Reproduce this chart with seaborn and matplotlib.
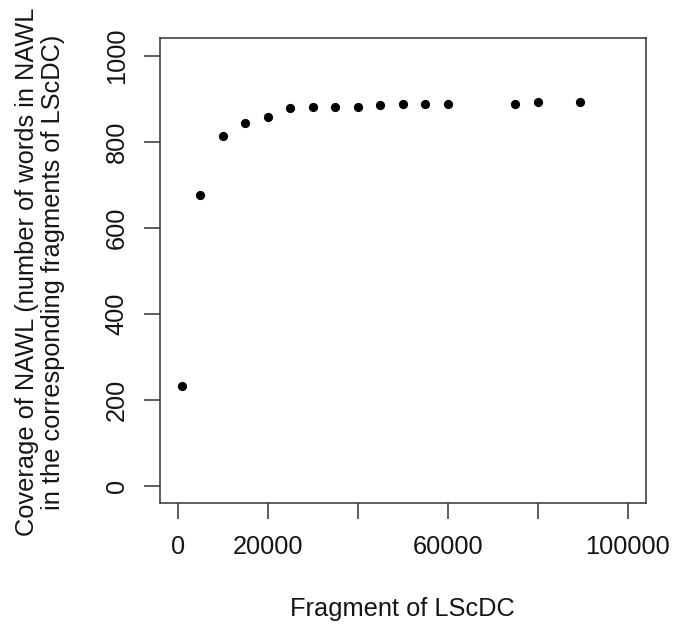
import matplotlib
matplotlib.use("Agg")
import matplotlib.pyplot as plt
import seaborn as sns
import pandas as pd

# Fragment sizes of LScDC (number of tokens) and NAWL words covered by each
fragment_size = [1000, 5000, 10000, 15000, 20000, 25000, 30000, 35000,
                 40000, 45000, 50000, 55000, 60000, 75000, 80000, 89300]
nawl_coverage = [232, 677, 814, 844, 858, 877, 881, 881,
                 881, 884, 888, 888, 888, 888, 892, 892]

x_ticks = [0, 20000, 40000, 60000, 80000, 100000]
x_tick_labels = ["0", "20000", "", "60000", "", "100000"]
y_ticks = [0, 200, 400, 600, 800, 1000]
y_tick_labels = ["0", "200", "400", "600", "800", "1000"]

df = pd.DataFrame({"fragment": fragment_size, "coverage": nawl_coverage})

sns.set_style("white")
plt.rcParams["font.family"] = ["Liberation Sans", "DejaVu Sans"]

fig = plt.figure(figsize=(6.73, 6.24), dpi=100)
ax = fig.add_axes([160 / 673, 1 - 503.3 / 624, 485.7 / 673, 465 / 624])

sns.scatterplot(data=df, x="fragment", y="coverage", ax=ax,
                color="black", s=44, linewidth=0, marker="o")

ax.set_xlim(-4000, 104000)
ax.set_ylim(-40, 1040)

ax.set_xticks(x_ticks)
ax.set_xticklabels(x_tick_labels)
ax.set_yticks(y_ticks)
ax.set_yticklabels(y_tick_labels, rotation=90, va="center")

for side in ["left", "right", "top", "bottom"]:
    ax.spines[side].set_visible(True)
    ax.spines[side].set_color("#333333")
    ax.spines[side].set_linewidth(1.1)

ax.tick_params(axis="both", direction="out", length=11.5, width=1.1,
               color="#333333", labelsize=18.3, labelcolor="#151515", pad=11)
ax.tick_params(axis="x", bottom=True)
ax.tick_params(axis="y", left=True)

ax.set_xlabel("Fragment of LScDC", fontsize=18.3, color="#151515")
ax.xaxis.set_label_coords(0.5, -0.2015)
ax.xaxis.label.set_va("top")

ax.set_ylabel("Coverage of NAWL (number of words in NAWL\n"
              "in the corresponding fragments of LScDC)",
              fontsize=18.3, color="#151515", linespacing=1.1)
ax.yaxis.set_label_coords(-0.1956, 0.497)

fig.savefig("out.png", dpi=100)
